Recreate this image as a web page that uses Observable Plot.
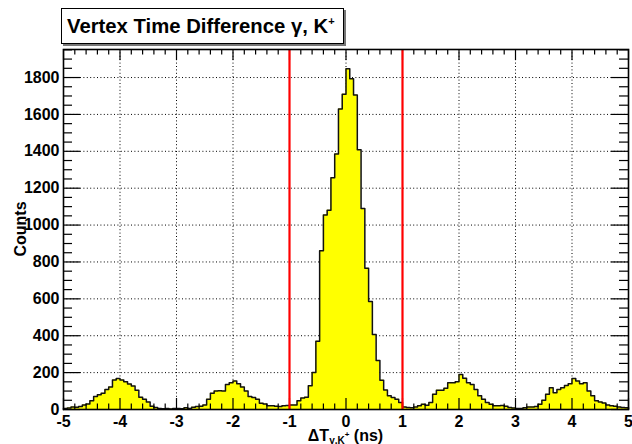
<!DOCTYPE html>
<html>
<head>
<meta charset="utf-8">
<script src="https://cdn.jsdelivr.net/npm/d3@7"></script>
<script src="https://cdn.jsdelivr.net/npm/@observablehq/plot@0.6"></script>
<style>
  html, body { margin: 0; padding: 0; background: #fff; }
  #wrap { position: relative; width: 632px; height: 444px; font-family: "Liberation Sans", Arial, sans-serif; }
  #title {
    position: absolute; left: 61px; top: 8px; width: 276px; height: 34px;
    border: 1.5px solid #000; background: #fff; box-shadow: 2px 2px 0 #777;
    font-weight: bold; font-size: 20.3px; line-height: 34px; padding-left: 5px; white-space: nowrap;
    z-index: 2;
  }
  #title sup { font-size: 11px; vertical-align: 0; position: relative; top: -8px; }
</style>
</head>
<body>
<div id="wrap">
  <div id="title">Vertex Time Difference γ, K<sup>+</sup></div>
</div>
<script>
// Histogram: 150 bins from -5 to 5 ns (bin width 1/15 ns), counts per bin
const binStart = -5;
const binWidth = 1 / 15;
const counts = [
  6, 8, 14, 12, 16, 24, 30, 48, 70, 80,
  88, 108, 122, 160, 168, 160, 150, 138, 128, 105,
  66, 56, 40, 18, 11, 6, 4, 5, 3, 6,
  5, 4, 10, 5, 12, 16, 18, 25, 55, 88,
  100, 102, 100, 136, 145, 154, 140, 122, 100, 70,
  65, 55, 34, 30, 20, 20, 18, 16, 20, 22,
  25, 25, 47, 62, 66, 129, 200, 370, 861, 1054,
  1081, 1257, 1386, 1629, 1710, 1848, 1794, 1705, 1408, 1090,
  766, 586, 406, 266, 158, 106, 75, 65, 56, 38,
  14, 11, 10, 14, 20, 29, 23, 38, 83, 104,
  104, 115, 145, 145, 150, 190, 170, 145, 136, 109,
  74, 56, 38, 29, 20, 20, 22, 18, 11, 8,
  5, 5, 10, 14, 14, 16, 29, 50, 83, 118,
  91, 109, 118, 130, 140, 168, 155, 140, 145, 100,
  74, 47, 40, 35, 25, 20, 18, 14, 11, 10
];
const xDomain = [-5, 5];
const yDomain = [0, 1952];
const xMajorTicks = [-5, -4, -3, -2, -1, 0, 1, 2, 3, 4, 5];
const xGridTicks = [-4, -3, -2, -1, 0, 1, 2, 3, 4];
const yMajorTicks = [0, 200, 400, 600, 800, 1000, 1200, 1400, 1600, 1800];
const yGridTicks = [200, 400, 600, 800, 1000, 1200, 1400, 1600, 1800];
const cutLines = [-1, 1];

const xMinorTicks = d3.range(-50, 51, 2).filter(d => d % 10 !== 0).map(d => d / 10);
const yMinorTicks = d3.range(0, 1951, 50).filter(d => d % 200 !== 0);

const pts = [{x: binStart, y: 0}]
  .concat(counts.map((c, i) => ({x: binStart + i * binWidth, y: c})))
  .concat([{x: xDomain[1], y: counts[counts.length - 1]}, {x: xDomain[1], y: 0}]);

const W = 632, H = 444, mL = 63, mR = 4, mT = 49, mB = 35;
const fw = W - mL - mR, fh = H - mT - mB;

const dotted = {stroke: "#000", strokeOpacity: 1, strokeWidth: 1, strokeDasharray: "1,2.4"};

const chart = Plot.plot({
  width: W, height: H,
  marginLeft: mL, marginRight: mR, marginTop: mT, marginBottom: mB,
  style: {fontFamily: "'Liberation Sans', Arial, sans-serif", fontSize: "16px", fontWeight: "bold", background: "transparent", overflow: "visible"},
  x: {domain: xDomain},
  y: {domain: yDomain},
  marks: [
    Plot.gridX(xGridTicks, dotted),
    Plot.gridY(yGridTicks, dotted),
    Plot.areaY(pts, {x: "x", y: "y", curve: "step-after", fill: "#ffff00"}),
    Plot.lineY(pts, {x: "x", y: "y", curve: "step-after", stroke: "#111", strokeWidth: 1.5}),
    // x ticks (inside, bottom and top)
    Plot.tickX(xMajorTicks, {x: d => d, insetTop: fh - 11, stroke: "#000", strokeWidth: 1.2}),
    Plot.tickX(xMinorTicks, {x: d => d, insetTop: fh - 5.5, stroke: "#000", strokeWidth: 1.2}),
    Plot.tickX(xMajorTicks, {x: d => d, insetBottom: fh - 11, stroke: "#000", strokeWidth: 1.2}),
    Plot.tickX(xMinorTicks, {x: d => d, insetBottom: fh - 5.5, stroke: "#000", strokeWidth: 1.2}),
    // y ticks (inside, left and right)
    Plot.tickY(yMajorTicks, {y: d => d, insetRight: fw - 17, stroke: "#000", strokeWidth: 1.2}),
    Plot.tickY(yMinorTicks, {y: d => d, insetRight: fw - 9, stroke: "#000", strokeWidth: 1.2}),
    Plot.tickY(yMajorTicks, {y: d => d, insetLeft: fw - 17, stroke: "#000", strokeWidth: 1.2}),
    Plot.tickY(yMinorTicks, {y: d => d, insetLeft: fw - 9, stroke: "#000", strokeWidth: 1.2}),
    Plot.ruleX(cutLines, {x: d => d, stroke: "#ff0000", strokeWidth: 2.2}),
    Plot.frame({stroke: "#000", strokeWidth: 1.6}),
    Plot.axisX({ticks: xMajorTicks, tickSize: 0, tickPadding: 6, tickFormat: d => String(d), label: null, fontWeight: "bold"}),
    Plot.axisY({ticks: yMajorTicks, tickSize: 0, tickPadding: 4, tickFormat: d => String(d), label: null, fontWeight: "bold"})
  ]
});

const svg = d3.select(chart);
// x-axis title: ΔT_{γ,K+} (ns)
const xt = svg.append("text")
  .attr("x", mL + fw / 2).attr("y", 440.5)
  .attr("text-anchor", "middle")
  .attr("font-size", 16).attr("font-weight", "bold").attr("fill", "#000");
xt.append("tspan").text("ΔT");
xt.append("tspan").attr("font-size", 10).attr("dy", 3).text("γ,K");
xt.append("tspan").attr("font-size", 8).attr("dy", -7).text("+");
xt.append("tspan").attr("dy", 4).text(" (ns)");
// y-axis title
svg.append("text")
  .attr("transform", `translate(26,${mT + fh / 2})rotate(-90)`)
  .attr("text-anchor", "middle")
  .attr("font-size", 16).attr("font-weight", "bold").attr("fill", "#000")
  .text("Counts");

document.getElementById("wrap").appendChild(chart);
chart.style.position = "absolute";
chart.style.left = "0px";
chart.style.top = "0px";
</script>
</body>
</html>
